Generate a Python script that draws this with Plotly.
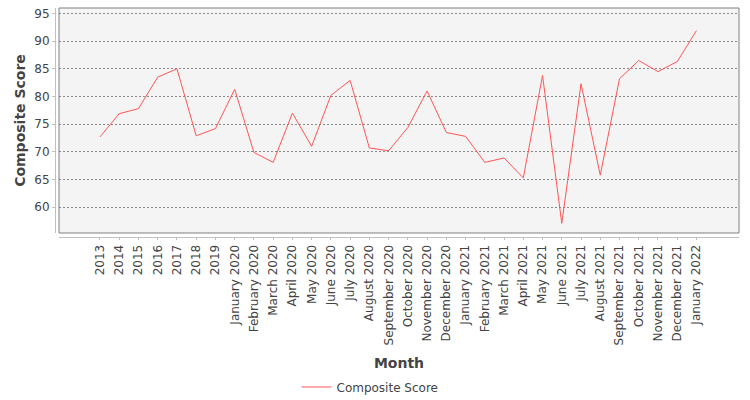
import plotly.graph_objects as go

# months / years on the category axis
months = ["2013", "2014", "2015", "2016", "2017", "2018", "2019",
          "January 2020", "February 2020", "March 2020", "April 2020", "May 2020",
          "June 2020", "July 2020", "August 2020", "September 2020", "October 2020",
          "November 2020", "December 2020", "January 2021", "February 2021",
          "March 2021", "April 2021", "May 2021", "June 2021", "July 2021",
          "August 2021", "September 2021", "October 2021", "November 2021",
          "December 2021", "January 2022"]

composite_score = [72.7, 76.9, 77.8, 83.5, 85.0, 72.9, 74.2, 81.3, 69.9, 68.1,
                   77.0, 71.0, 80.2, 82.9, 70.7, 70.2, 74.4, 81.0, 73.5, 72.8,
                   68.1, 68.9, 65.3, 83.8, 57.1, 82.3, 65.8, 83.2, 86.5, 84.5,
                   86.3, 91.9]

y_ticks = [60, 65, 70, 75, 80, 85, 90, 95]

W, H = 750, 400
ml, mr, mt, mb = 55, 11, 8, 163
pw, ph = W - ml - mr, H - mt - mb
gap = 4  # axis lines sit a few px away from the plot border

txt = "#444444"
fnt = "DejaVu Sans"

fig = go.Figure()
fig.add_trace(go.Scatter(
    x=months, y=composite_score, mode="lines", name="Composite Score",
    line=dict(color="#ff5555", width=1),
))

# plot border
fig.add_shape(type="rect", xref="x domain", yref="y domain", x0=0, x1=1, y0=0, y1=1,
              line=dict(color="#808080", width=1), layer="above")

fig.update_layout(
    width=W, height=H,
    margin=dict(l=ml, r=mr, t=mt, b=mb, autoexpand=False),
    paper_bgcolor="white", plot_bgcolor="#f4f4f4",
    font=dict(family=fnt, size=12, color=txt),
    showlegend=True,
    # plotly's legend swatch is wider, so nudge it left to keep the text in place
    legend=dict(orientation="h", x=0.5 - 27 / pw, xanchor="center",
                y=-(387 - (H - mb)) / ph, yanchor="middle",
                font=dict(size=12, color=txt)),
    xaxis=dict(
        type="category", domain=[gap / pw, 1], anchor="free", position=0,
        range=[-2.13, 33.21], tickmode="array", tickvals=months,
        tickangle=-90, tickfont=dict(size=12, color=txt),
        showgrid=False, showline=True, linecolor="#c0c0c0", linewidth=1,
        ticks="outside", ticklen=2, tickcolor="#c0c0c0",
        title=dict(text="<b>Month</b>", font=dict(size=14, color=txt), standoff=13),
        automargin=False,
    ),
    yaxis=dict(
        domain=[gap / ph, 1], anchor="free", position=0,
        range=[55.35, 95.98], tickvals=y_ticks,
        tickfont=dict(size=12, color=txt),
        showgrid=True, gridcolor="#8a8a8a", griddash="2px,2px", gridwidth=1,
        zeroline=False, showline=True, linecolor="#c0c0c0", linewidth=1,
        ticks="outside", ticklen=3, tickcolor="#c0c0c0",
        title=dict(text="<b>Composite Score</b>", font=dict(size=14, color=txt), standoff=4),
        automargin=False,
    ),
)

# drop the default page margin so the figure sits at the top-left corner
fig.write_html("out.html", config={"displayModeBar": False},
               post_script="document.body.style.margin = '0';")
